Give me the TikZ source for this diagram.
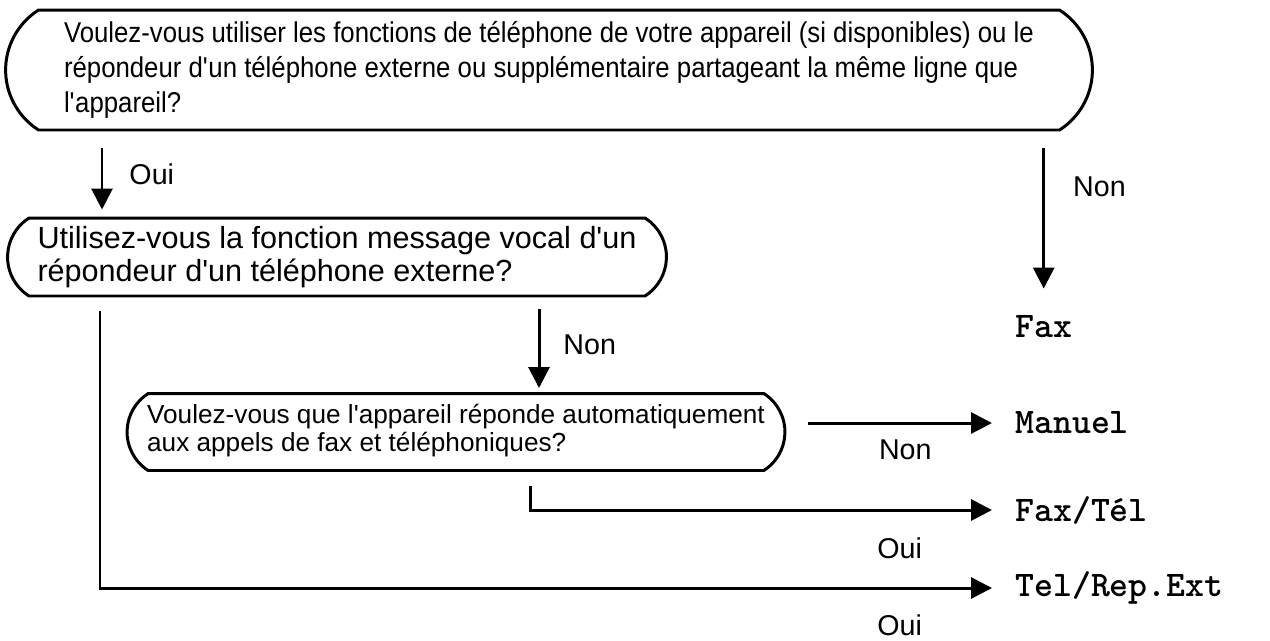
\documentclass[tikz,border=0pt]{standalone}
\usepackage{fontspec}
\setmainfont{Liberation Sans}
\newfontfamily\narrowfont{Liberation Sans}[FakeStretch=0.9]
\usetikzlibrary{arrows.meta}
\usetikzlibrary{shapes.misc}
\newcommand{\ap}{\textquotesingle}
\tikzset{
  question/.style={rounded rectangle, rounded rectangle arc length=115, draw,
    line width=1.7pt, align=left, inner sep=0pt},
  mode/.style={anchor=west, inner sep=0pt, font=\ttfamily\bfseries\fontsize{20.5}{22}\selectfont},
  lbl/.style={inner sep=0pt, font=\fontsize{16.3}{18}\selectfont},
  arr/.style={line width=1.7pt, -{Triangle[width=0.42cm,length=0.42cm]}}
}
\begin{document}
\begin{tikzpicture}[x=0.02cm,y=-0.02cm]
  \useasboundingbox (0,0) rectangle (1270,640);
  % questions
  \node[question, minimum width=21.74cm, minimum height=2.4cm,
    font=\narrowfont\fontsize{16.3}{19.9}\selectfont] (q1) at (549,70)
    {Voulez-vous utiliser les fonctions de téléphone de votre appareil (si disponibles) ou le\\
     répondeur d\ap un téléphone externe ou supplémentaire partageant la même ligne que\\
     l\ap appareil?};
  \node[question, minimum width=13.18cm, minimum height=1.56cm,
    font=\fontsize{17.4}{18.8}\selectfont] (q2) at (337,257)
    {Utilisez-vous la fonction message vocal d\ap un\\ répondeur d\ap un téléphone externe?};
  \node[question, minimum width=13.16cm, minimum height=1.54cm,
    font=\fontsize{14.9}{15.9}\selectfont] (q3) at (456,432)
    {\raisebox{-0.1cm}{\begin{tabular}{@{}l@{}}Voulez-vous que l\ap appareil réponde automatiquement\\ aux appels de fax et téléphoniques?\end{tabular}}};

  % modes
  \node[mode] (fax) at (1015,327) {Fax};
  \node[mode] (manuel) at (1015,423) {Manuel};
  \node[mode] (faxtel) at (1015,510) {Fax/Tél};
  \node[mode] (telrep) at (1015,588) {Tel/Rep.Ext};

  % answers
  \draw[arr, shorten <=0.34cm, shorten >=0.14cm] (q1.south -| 102,0) -- node[lbl, right=0.52cm]{Oui} (q2.north -| 102,0);
  \draw[arr, shorten <=0.34cm, shorten >=0.54cm] (q1.south -| fax.north) -- node[lbl, pos=0.3, right=0.56cm]{Non} (fax.north);
  \draw[arr, shorten <=0.28cm, shorten >=0.46cm] (q2.south -| 100,0) |- node[lbl, pos=0.937, below=0.5cm]{Oui} (telrep.west);
  \draw[arr, shorten <=0.24cm, shorten >=0.08cm] (q2.south -| 539,0) -- node[lbl, right=0.46cm]{Non} (q3.north -| 539,0);
  \draw[arr, shorten <=0.44cm, shorten >=0.46cm] (q3.east |- manuel.west) -- node[lbl, pos=0.52, below=0.3cm]{Non} (manuel.west);
  \draw[arr, shorten <=0.28cm, shorten >=0.46cm] (q3.south -| 530,0) |- node[lbl, pos=0.881, below=0.52cm]{Oui} (faxtel.west);
\end{tikzpicture}
\end{document}
